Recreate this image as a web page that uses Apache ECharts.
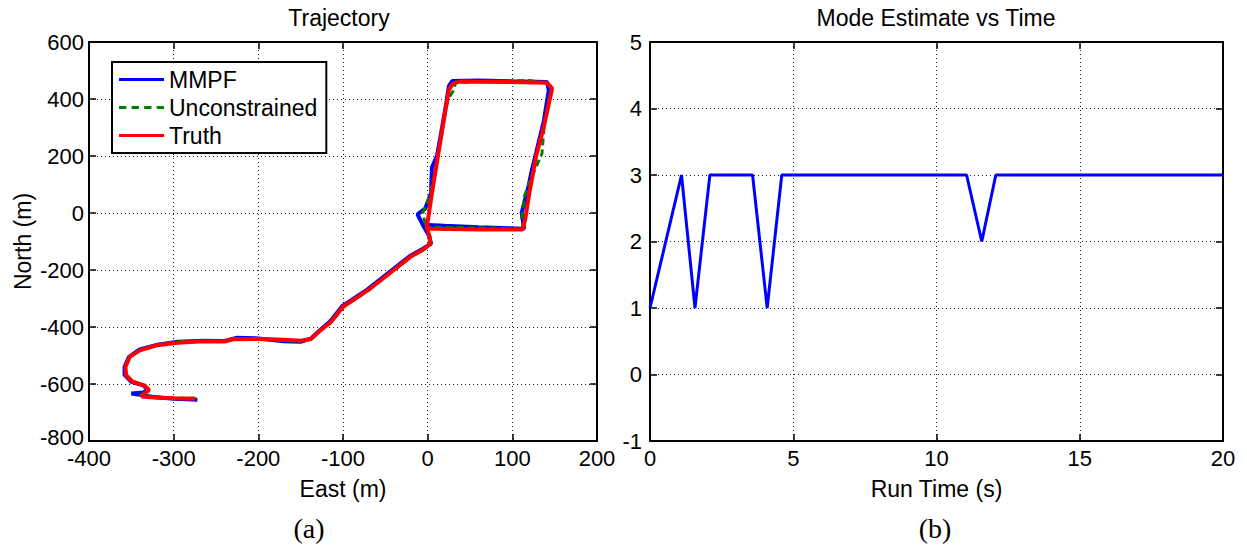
<!DOCTYPE html>
<html>
<head>
<meta charset="utf-8">
<script src="https://cdn.jsdelivr.net/npm/echarts@6/dist/echarts.min.js"></script>
<style>html,body{margin:0;padding:0;background:#fff}#c{width:1247px;height:552px}</style>
</head>
<body>
<div id="c"></div>
<script>
// ---- Trajectory (left panel) ----
const truthEast  = [-275,-300,-320,-338,-334,-329,-334,-348,-356,-357,-352,-340,-320,-295,-265,-240,-230,-200,-170,-150,-138,-128,-115,-100,-70,-40,-20,-5,3,2,-1,5,12,21,25,30,38,90,141,147,137,128,120,115,112,60,5,0];
const truthNorth = [-652,-650,-648,-644,-632,-622,-606,-593,-570,-540,-505,-482,-464,-455,-450,-451,-443,-442,-445,-448,-442,-415,-385,-329,-270,-200,-153,-128,-108,-80,-50,69,198,361,432,455,461,460,457,437,300,198,69,-25,-58,-58,-55,-52];

const mmpfEast  = [-272,-300,-322,-350,-336,-330,-336,-350,-358,-358,-353,-341,-319,-295,-265,-240,-226,-200,-170,-150,-138,-128,-116,-101,-71,-41,-21,-6,4,2,-6,-12,-3,4,5,11,17,22,25,29,60,100,141,143,137,128,123,119,111,114,60,20,0];
const mmpfNorth = [-655,-652,-646,-633,-630,-620,-605,-592,-568,-540,-506,-480,-462,-452,-448,-449,-438,-440,-450,-452,-441,-413,-383,-327,-268,-198,-151,-126,-108,-82,-40,-5,15,69,160,200,300,386,445,463,465,462,460,430,320,210,150,92,0,-55,-50,-45,-42];

const uncEast  = [-274,-300,-322,-340,-333,-329,-335,-349,-357,-357,-351,-339,-319,-294,-266,-240,-229,-200,-170,-150,-137,-127,-114,-99,-69,-39,-19,-4,4,2,-3,-6,0,6,12,19,24,31,33,70,120,142,146,138,135,122,114,111,113,60,10,0];
const uncNorth = [-650,-650,-645,-640,-630,-620,-604,-590,-565,-540,-503,-479,-461,-452,-448,-450,-442,-441,-447,-450,-441,-412,-383,-329,-269,-199,-152,-127,-104,-78,-35,0,40,100,200,320,400,432,458,462,465,455,440,320,209,120,57,-20,-56,-52,-50,-48];

// ---- Mode estimate (right panel) ----
const modeTime  = [0,1.1,1.57,2.09,3.58,4.09,4.6,11.05,11.58,12.07,20];
const modeValue = [1,3,1,3,3,1,3,3,2,3,3];

const zip = (a,b) => a.map((v,i)=>[v,b[i]]);
const FONT = 'Liberation Sans';
const FS = 23;

const split = {show:true, lineStyle:{color:'#222', type:[1,3], width:1}};
function mainAxis(pos, gi, min, max, interval, extra){
  return Object.assign({
    type:'value', gridIndex:gi, position:pos, min:min, max:max, interval:interval,
    axisLine:{show:true, onZero:false, lineStyle:{color:'#000', width:2}},
    axisTick:{show:true, inside:true, length:7, lineStyle:{color:'#000', width:1.5}},
    axisLabel:{show:true, color:'#000', fontFamily:FONT, fontSize:22, lineHeight:16, margin:9},
    splitLine:split
  }, extra||{});
}
function mirrorAxis(pos, gi, min, max, interval){
  return {
    type:'value', gridIndex:gi, position:pos, min:min, max:max, interval:interval,
    axisLine:{show:true, onZero:false, lineStyle:{color:'#000', width:2}},
    axisTick:{show:true, inside:true, length:7, lineStyle:{color:'#000', width:1.5}},
    axisLabel:{show:false}, splitLine:{show:false}
  };
}
const nameStyle = {color:'#000', fontFamily:FONT, fontSize:FS};

const solidIcon  = 'path://M0,0H45V3H0Z';
const dashedIcon = 'path://M2,0H9V3H2Z M14,0H21V3H14Z M26,0H33V3H26Z M38,0H45V3H38Z';

const option = {
  animation:false,
  backgroundColor:'#fff',
  grid:[{show:false, left:89, top:42, width:508, height:399},
        {show:false, left:650, top:42, width:573, height:399}],
  xAxis:[
    mainAxis('bottom',0,-400,200,100,{name:'East (m)', nameLocation:'middle', nameGap:36, nameTextStyle:nameStyle}),
    mirrorAxis('top',0,-400,200,100),
    mainAxis('bottom',1,0,20,5,{name:'Run Time (s)', nameLocation:'middle', nameGap:36, nameTextStyle:nameStyle}),
    mirrorAxis('top',1,0,20,5)
  ],
  yAxis:[
    mainAxis('left',0,-800,600,200,{name:'North (m)', nameLocation:'middle', nameGap:55, nameTextStyle:nameStyle,
      axisLabel:{show:true, color:'#000', fontFamily:FONT, fontSize:22, lineHeight:16, margin:5,
        formatter:function(v){ return v === -800 ? '{lo|' + v + '}' : String(v); },
        rich:{lo:{color:'#000', fontFamily:FONT, fontSize:22, lineHeight:16, padding:[0,0,8,0]}}}}),
    mirrorAxis('right',0,-800,600,200),
    mainAxis('left',1,-1,5,1,{axisLabel:{show:true, color:'#000', fontFamily:FONT, fontSize:22, lineHeight:16, margin:8}}),
    mirrorAxis('right',1,-1,5,1)
  ],
  legend:{
    data:[{name:'MMPF', icon:solidIcon},{name:'Unconstrained', icon:dashedIcon},{name:'Truth', icon:solidIcon}],
    orient:'vertical', left:112, top:62,
    symbolKeepAspect:false,
    backgroundColor:'#fff', borderColor:'#000', borderWidth:2, borderRadius:0,
    padding:[6,9,6,7], itemGap:5, itemWidth:45, itemHeight:3,
    textStyle:{color:'#000', fontFamily:FONT, fontSize:FS, lineHeight:23},
    selectedMode:false
  },
  series:[
    {name:'MMPF', type:'line', xAxisIndex:0, yAxisIndex:0, data:zip(mmpfEast,mmpfNorth), showSymbol:false, symbol:'none',
     lineStyle:{color:'#0000ff', width:4}, itemStyle:{color:'#0000ff'}},
    {name:'Unconstrained', type:'line', xAxisIndex:0, yAxisIndex:0, data:zip(uncEast,uncNorth), showSymbol:false, symbol:'none',
     lineStyle:{color:'#008000', width:3, type:[7,4]}, itemStyle:{color:'#008000'}},
    {name:'Truth', type:'line', xAxisIndex:0, yAxisIndex:0, data:zip(truthEast,truthNorth), showSymbol:false, symbol:'none',
     lineStyle:{color:'#ff0000', width:4}, itemStyle:{color:'#ff0000'}},
    {name:'Mode', type:'line', xAxisIndex:2, yAxisIndex:2, data:zip(modeTime,modeValue), showSymbol:false, symbol:'none',
     lineStyle:{color:'#0000ff', width:3}, itemStyle:{color:'#0000ff'}}
  ],
  graphic:[
    {type:'text', id:'t1', x:339, y:6, style:{text:'Trajectory', fill:'#000', font:FS+'px "Liberation Sans"', textAlign:'center'}},
    {type:'text', id:'t2', x:936, y:6, style:{text:'Mode Estimate vs Time', fill:'#000', font:FS+'px "Liberation Sans"', textAlign:'center'}},
    {type:'text', id:'a', x:309, y:514, style:{text:'(a)', fill:'#000', font:'28px "Liberation Serif"', textAlign:'center'}},
    {type:'text', id:'b', x:935, y:514, style:{text:'(b)', fill:'#000', font:'28px "Liberation Serif"', textAlign:'center'}}
  ]
};
const chart = echarts.init(document.getElementById('c'), null, {renderer:'svg', width:1247, height:552});
chart.setOption(option);
</script>
</body>
</html>
